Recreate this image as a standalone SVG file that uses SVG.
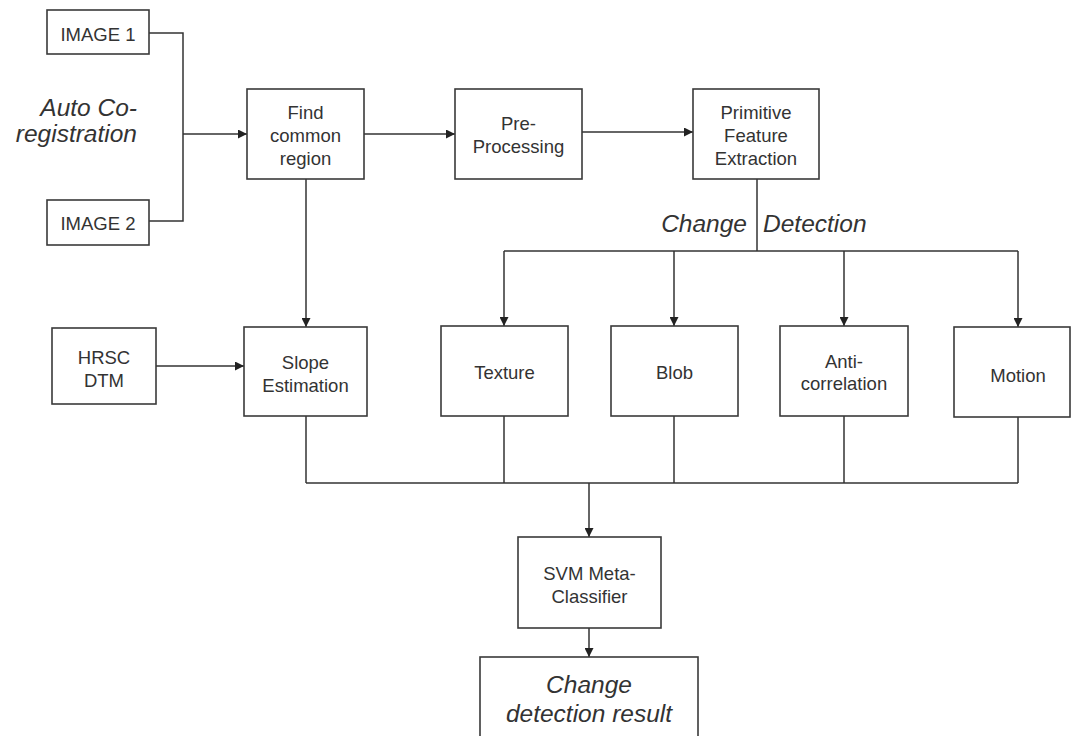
<svg xmlns="http://www.w3.org/2000/svg" width="1071" height="736" viewBox="0 0 1071 736">
<defs>
<style>
.box{fill:#fff;stroke:#3a3a3a;stroke-width:1.6}
.t{font-family:"Liberation Sans",Arial,Helvetica,sans-serif;font-size:18.5px;fill:#333;text-anchor:middle}
.it{font-family:"Liberation Sans",Arial,Helvetica,sans-serif;font-size:24.5px;font-style:italic;fill:#333}
.ln{fill:none;stroke:#333;stroke-width:1.5}
.arr{fill:none;stroke:#333;stroke-width:1.5;marker-end:url(#ah)}
</style>
<marker id="ah" viewBox="0 0 10 10" refX="10" refY="5" markerWidth="9" markerHeight="9" markerUnits="userSpaceOnUse" orient="auto">
<path d="M0,0 L10,5 L0,10 z" fill="#222"/>
</marker>
</defs>
<rect width="1071" height="736" fill="#fff"/>

<g id="connectors">
<polyline class="ln" points="149,33 183,33 183,221 149,221"/>
<line class="arr" x1="183" y1="134" x2="247" y2="134"/>
<line class="arr" x1="364" y1="134" x2="455" y2="134"/>
<line class="arr" x1="582" y1="132" x2="693" y2="132"/>
<line class="arr" x1="306" y1="179" x2="306" y2="327"/>
<line class="arr" x1="156" y1="366" x2="244" y2="366"/>
<line class="ln" x1="757" y1="179" x2="757" y2="251"/>
<polyline class="ln" points="504,251 1018,251"/>
<line class="arr" x1="504" y1="251" x2="504" y2="326"/>
<line class="arr" x1="674" y1="251" x2="674" y2="326"/>
<line class="arr" x1="844" y1="251" x2="844" y2="326"/>
<line class="arr" x1="1018" y1="251" x2="1018" y2="327"/>
<line class="ln" x1="306" y1="416" x2="306" y2="483"/>
<line class="ln" x1="504" y1="416" x2="504" y2="483"/>
<line class="ln" x1="674" y1="416" x2="674" y2="483"/>
<line class="ln" x1="844" y1="416" x2="844" y2="483"/>
<line class="ln" x1="1018" y1="417" x2="1018" y2="483"/>
<line class="ln" x1="306" y1="483" x2="1018" y2="483"/>
<line class="arr" x1="589" y1="483" x2="589" y2="537"/>
<line class="arr" x1="589" y1="628" x2="589" y2="657"/>
</g>

<g id="label-auto-coregistration">
<text class="it" x="137" y="116" text-anchor="end">Auto Co-</text>
<text class="it" x="137" y="142" text-anchor="end">registration</text>
</g>
<g id="label-change-detection">
<text class="it" x="747" y="232" text-anchor="end">Change</text>
<text class="it" x="763" y="232">Detection</text>
</g>

<g id="image1"><rect class="box" x="47" y="10" width="102" height="44"/><text class="t" x="98" y="41">IMAGE 1</text></g>
<g id="image2"><rect class="box" x="47" y="200" width="102" height="45"/><text class="t" x="98" y="230">IMAGE 2</text></g>
<g id="find-common-region"><rect class="box" x="247" y="89" width="117" height="90"/>
<text class="t" x="305.5" y="119">Find</text><text class="t" x="305.5" y="142">common</text><text class="t" x="305.5" y="165">region</text></g>
<g id="pre-processing"><rect class="box" x="455" y="89" width="127" height="90"/>
<text class="t" x="518.5" y="130">Pre-</text><text class="t" x="518.5" y="153">Processing</text></g>
<g id="primitive-feature-extraction"><rect class="box" x="693" y="89" width="126" height="90"/>
<text class="t" x="756" y="119">Primitive</text><text class="t" x="756" y="142">Feature</text><text class="t" x="756" y="165">Extraction</text></g>
<g id="hrsc-dtm"><rect class="box" x="52" y="328" width="104" height="76"/>
<text class="t" x="104" y="364">HRSC</text><text class="t" x="104" y="387">DTM</text></g>
<g id="slope-estimation"><rect class="box" x="244" y="327" width="123" height="89"/>
<text class="t" x="305.5" y="369">Slope</text><text class="t" x="305.5" y="392">Estimation</text></g>
<g id="texture"><rect class="box" x="441" y="326" width="127" height="90"/><text class="t" x="504.5" y="379">Texture</text></g>
<g id="blob"><rect class="box" x="611" y="326" width="127" height="90"/><text class="t" x="674.5" y="379">Blob</text></g>
<g id="anti-correlation"><rect class="box" x="780" y="326" width="128" height="90"/>
<text class="t" x="844" y="368">Anti-</text><text class="t" x="844" y="390">correlation</text></g>
<g id="motion"><rect class="box" x="954" y="327" width="116" height="90"/><text class="t" x="1018" y="382">Motion</text></g>
<g id="svm-meta-classifier"><rect class="box" x="518" y="537" width="143" height="91"/>
<text class="t" x="589.5" y="580">SVM Meta-</text><text class="t" x="589.5" y="603">Classifier</text></g>
<g id="change-detection-result"><rect class="box" x="480" y="657" width="218" height="90"/>
<text class="it" x="589" y="693" text-anchor="middle">Change</text><text class="it" x="589" y="722" text-anchor="middle">detection result</text></g>
</svg>
